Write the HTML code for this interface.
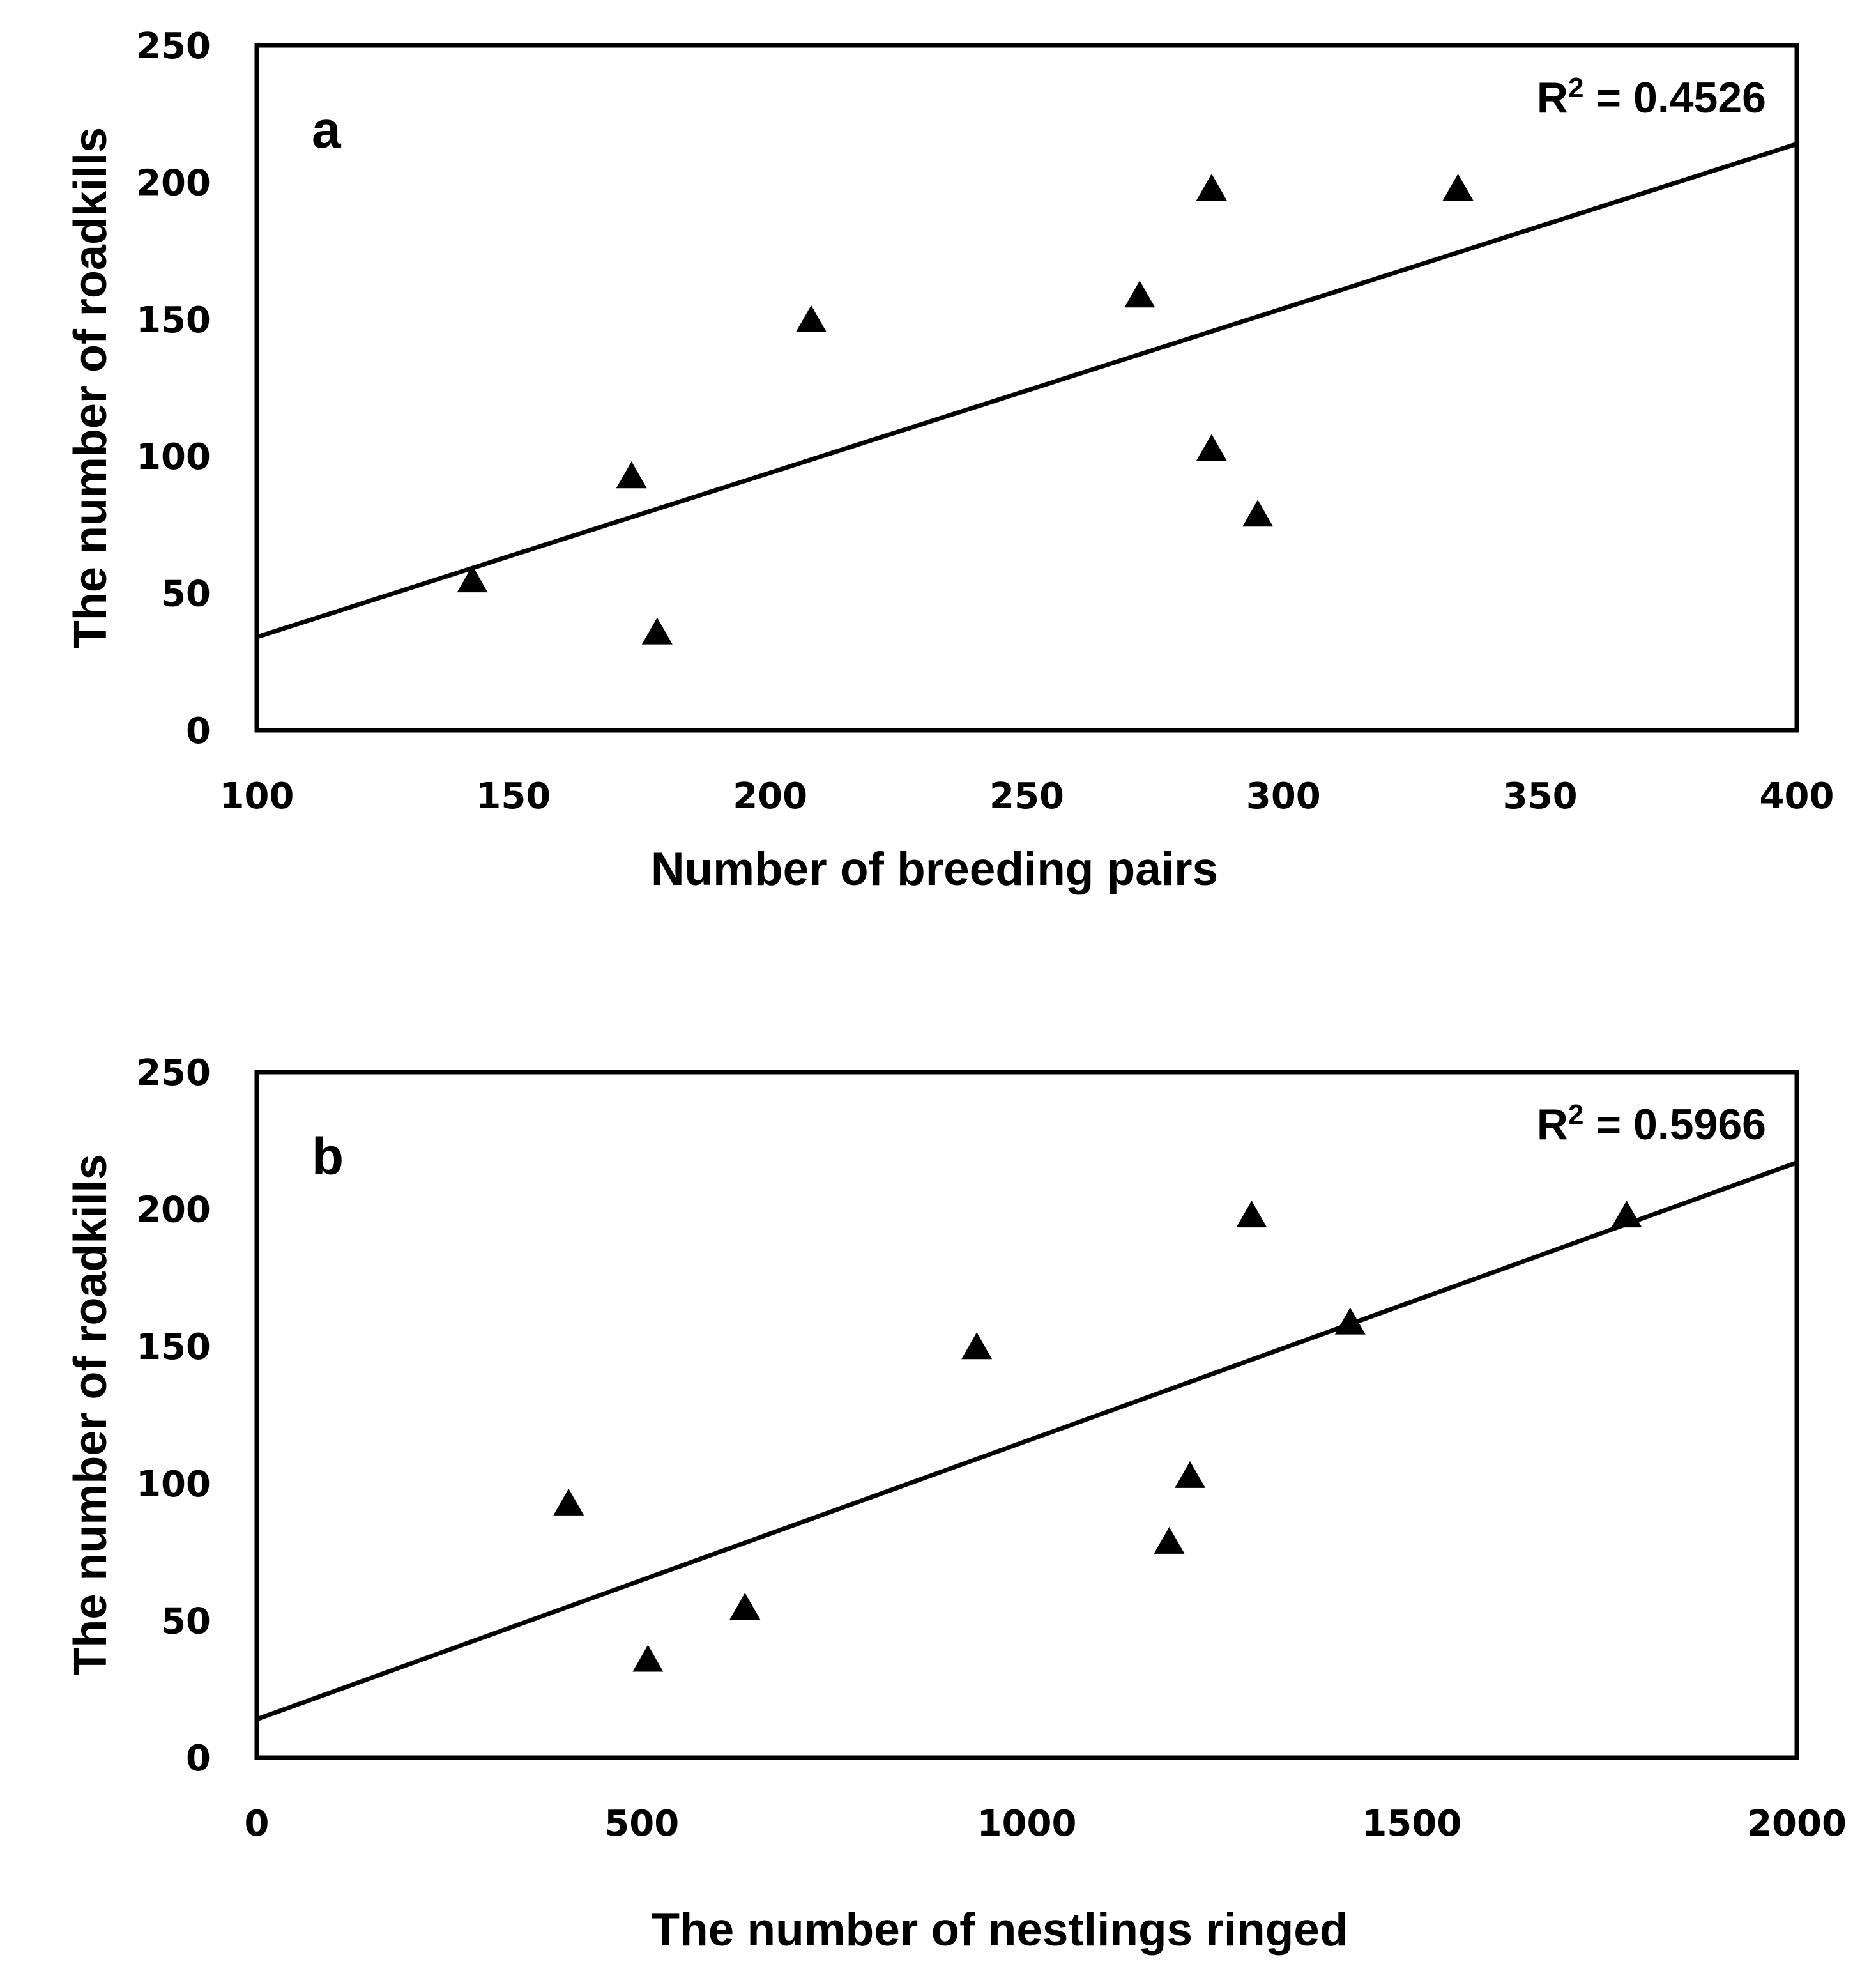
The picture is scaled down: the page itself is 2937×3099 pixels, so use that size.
<!DOCTYPE html>
<html><head><meta charset="utf-8"><style>
html,body{margin:0;padding:0;background:#fff;}
svg text{font-family:"Liberation Sans",Arial,sans-serif;font-weight:bold;fill:#000;}
svg text.tick{font-family:"DejaVu Sans","Liberation Sans",sans-serif;}
</style></head><body>
<svg id="fig" width="2937" height="3094" viewBox="0 0 2937 3094" xmlns="http://www.w3.org/2000/svg"></svg>
<script>
// Panel a data
const aX = [142,173,178,208,272,286,286,295,334];
const aY = [55,93,36,150,159,198,103,79,198];
const aTrend = [34,214]; // y at x=100 and x=400
const aXTicks = [100,150,200,250,300,350,400];
const yTicks = [0,50,100,150,200,250];
// Panel b data
const bX = [405,508,634,935,1185,1212,1292,1420,1779];
const bY = [93,36,55,150,79,103,198,159,198];
const bTrend = [14,217]; // y at x=0 and x=2000
const bXTicks = [0,500,1000,1500,2000];

const NS="http://www.w3.org/2000/svg";
const svg=document.getElementById('fig');
function mk(tag,attrs,parent){const e=document.createElementNS(NS,tag);for(const k in attrs)e.setAttribute(k,attrs[k]);(parent||svg).appendChild(e);return e;}

function panel(opt){
  const g=mk('g',{});
  
  
  const L=402,R=2813,T=opt.top,B=opt.bottom;
  const sx=v=>L+(v-opt.xmin)/(opt.xmax-opt.xmin)*(R-L);
  const sy=v=>B-(v-0)/(250-0)*(B-T);
  const box=mk('rect',{x:L,y:T,width:R-L,height:B-T,fill:'none',stroke:'#000','stroke-width':7},g);
  
  
  yTicks.forEach(v=>{
    const t=mk('text',{x:330,y:sy(v)+20,'font-size':56,'text-anchor':'end','class':'tick'},g);
    t.textContent=v;
    
    
  });
  opt.xticks.forEach(v=>{
    const t=mk('text',{x:sx(v),y:B+122,'font-size':56,'text-anchor':'middle','class':'tick'},g);
    t.textContent=v;
    
    
  });
  const xt=mk('text',{x:opt.xtitleX,y:opt.xtitleY,'font-size':73,'text-anchor':'middle'},g);
  xt.textContent=opt.xtitle;
  
  
  const cy=(T+B)/2;
  const yt=mk('text',{x:166,y:cy,'font-size':72,'text-anchor':'middle',transform:`rotate(-90 166 ${cy})`},g);
  yt.textContent='The number of roadkills';
  
  
  const lt=mk('text',{x:488,y:T+160,'font-size':82},g);
  lt.textContent=opt.letter;
  
  
  const r2=mk('text',{x:2765,y:T+105,'font-size':68,'text-anchor':'end'},g);
  r2.innerHTML=opt.r2;
  
  
  const ln=mk('line',{x1:L,y1:sy(opt.trend[0]),x2:R,y2:sy(opt.trend[1]),stroke:'#000','stroke-width':7},g);
  
  
  opt.xs.forEach((v,i)=>{
    const px=sx(v),py=sy(opt.ys[i]);
    const p=mk('polygon',{points:`${px},${py-22} ${px-24},${py+20} ${px+24},${py+20}`,fill:'#000'},g);
    
    
  });
}
panel({name:'panel-a',top:71,bottom:1143,xmin:100,xmax:400,xticks:aXTicks,xs:aX,ys:aY,trend:aTrend,letter:'a',xtitle:'Number of breeding pairs',xtitleX:1463,xtitleY:1385,r2:'R<tspan dy="-24" font-size="44">2</tspan><tspan dy="24"> = 0.4526</tspan>'});
panel({name:'panel-b',top:1678,bottom:2751,xmin:0,xmax:2000,xticks:bXTicks,xs:bX,ys:bY,trend:bTrend,letter:'b',xtitle:'The number of nestlings ringed',xtitleX:1565,xtitleY:3045,r2:'R<tspan dy="-24" font-size="44">2</tspan><tspan dy="24"> = 0.5966</tspan>'});
</script>
</body></html>
